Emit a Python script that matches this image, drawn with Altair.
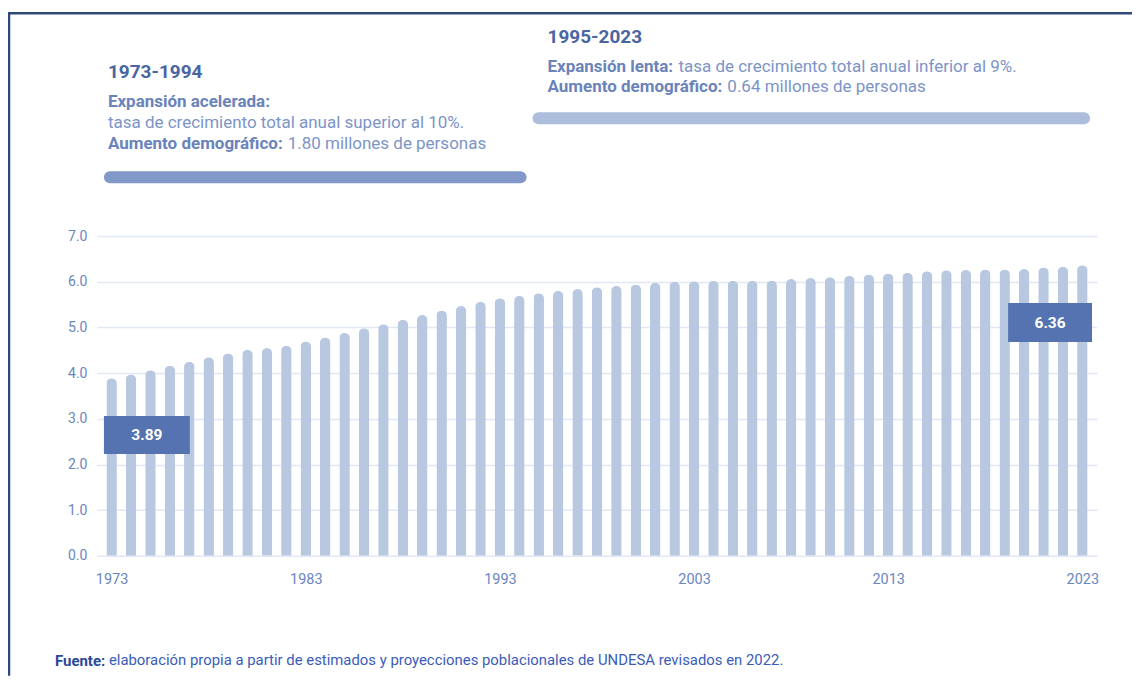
import altair as alt
import pandas as pd

# ---- data ----
years = list(range(1973, 2024))
population = [3.89, 3.97, 4.06, 4.16, 4.25, 4.35, 4.43, 4.51, 4.55, 4.60,
              4.69, 4.78, 4.88, 4.98, 5.07, 5.17, 5.27, 5.37, 5.47, 5.56,
              5.64, 5.69, 5.75, 5.80, 5.84, 5.88, 5.91, 5.94, 5.98, 6.00,
              6.01, 6.02, 6.02, 6.02, 6.03, 6.06, 6.08, 6.10, 6.13, 6.16,
              6.18, 6.20, 6.23, 6.25, 6.26, 6.27, 6.27, 6.28, 6.31, 6.33,
              6.36]
x_ticks = [1973, 1983, 1993, 2003, 2013, 2023]
y_ticks = [0, 1, 2, 3, 4, 5, 6, 7]

df = pd.DataFrame({"year": years, "pop": population})
one = pd.DataFrame({"k": [0]})

FONT = "Roboto"
BAR = "#b9c8e1"
DARK = "#5473b0"
AXIS_LBL = "#6a86c0"
TITLE_C = "#4a65a2"
BOLD_C = "#6a83bb"
REG_C = "#7c94c7"
BODY = 17
TITLE = 19

W, H = 1001, 320

bars = alt.Chart(df).mark_bar(width=10.5, cornerRadiusEnd=5.25, color=BAR).encode(
    x=alt.X("year:Q",
            scale=alt.Scale(domain=[1972.5, 2023.5], nice=False, zero=False),
            axis=alt.Axis(values=x_ticks, format="d", title=None, grid=False,
                          domain=False, ticks=False, labelPadding=17,
                          labelFontSize=14.5, labelColor=AXIS_LBL, labelFont=FONT,
                          labelFlush=False)),
    y=alt.Y("pop:Q",
            scale=alt.Scale(domain=[0, 7], nice=False),
            axis=alt.Axis(values=y_ticks, format=".1f", title=None, grid=True,
                          gridColor="#e1e7f4", gridWidth=1.5, domain=False,
                          ticks=False, labelPadding=10, labelFontSize=14,
                          labelColor=AXIS_LBL, labelFont=FONT)),
)


def txt(s, x, y, size, color, weight="normal", align="left"):
    return alt.Chart(one).mark_text(
        text=s, fontSize=size, font=FONT, fontWeight=weight, color=color,
        align=align, baseline="middle"
    ).encode(x=alt.value(x), y=alt.value(y))


def band(x1, x2, y, color, w=12):
    return alt.Chart(one).mark_rule(strokeWidth=w, strokeCap="round", color=color).encode(
        x=alt.value(x1), x2=alt.value(x2), y=alt.value(y))


def box(x1, x2, y1, y2):
    return alt.Chart(one).mark_rect(color=DARK).encode(
        x=alt.value(x1), x2=alt.value(x2), y=alt.value(y1), y2=alt.value(y2))


first_lbl = f"{population[0]:.2f}"
last_lbl = f"{population[-1]:.2f}"

layers = [
    # frame
    alt.Chart(one).mark_rule(strokeWidth=2.5, color="#2f4a7a").encode(
        x=alt.value(-89), x2=alt.value(1036), y=alt.value(-223)),
    alt.Chart(one).mark_rule(strokeWidth=2.5, color="#2f4a7a").encode(
        x=alt.value(-88), y=alt.value(-223), y2=alt.value(440)),
    bars,
    # value boxes
    box(7, 93, 180, 218),
    txt(first_lbl, 50, 199, 15.5, "white", "bold", "center"),
    box(912, 996, 67, 106),
    txt(last_lbl, 954, 86.5, 15.5, "white", "bold", "center"),
    # left block
    txt("1973-1994", 11, -164, TITLE, TITLE_C, "bold"),
    txt("Expansión acelerada:", 11, -134, BODY, BOLD_C, "bold"),
    txt("tasa de crecimiento total anual superior al 10%.", 11, -113, BODY, REG_C),
    txt("Aumento demográfico:", 11, -92, BODY, BOLD_C, "bold"),
    txt("1.80 millones de personas", 191, -92, BODY, REG_C),
    band(13, 424, -59, "#8198c8"),
    # right block
    txt("1995-2023", 451, -199, TITLE, TITLE_C, "bold"),
    txt("Expansión lenta:", 451, -169, BODY, BOLD_C, "bold"),
    txt("tasa de crecimiento total anual inferior al 9%.", 582, -169, BODY, REG_C),
    txt("Aumento demográfico:", 451, -149, BODY, BOLD_C, "bold"),
    txt("0.64 millones de personas", 631, -149, BODY, REG_C),
    band(442, 988, -118, "#adbddc"),
    # footnote
    txt("Fuente:", -42, 425, 15, "#2b4899", "bold"),
    txt("elaboración propia a partir de estimados y proyecciones poblacionales de UNDESA revisados en 2022.",
        12, 425, 14.9, "#3b5cb8"),
]

chart = alt.layer(*layers).properties(
    width=W, height=H,
    autosize=alt.AutoSizeParams(type="none"),
    padding={"left": 89, "top": 228, "right": 35, "bottom": 120},
    background="white",
).configure_view(stroke=None)

chart.save("out.html", embed_options={"renderer": "svg", "actions": False})
